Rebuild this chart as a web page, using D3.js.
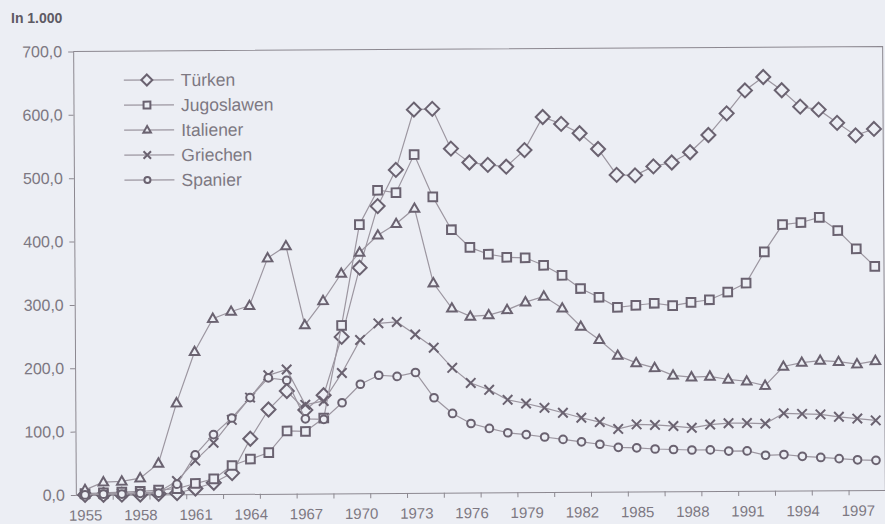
<!DOCTYPE html>
<html>
<head>
<meta charset="utf-8">
<script src="https://cdn.jsdelivr.net/npm/d3@7"></script>
<style>
  body { margin: 0; background: #eceef4; }
  svg { display: block; font-family: "Liberation Sans", Arial, sans-serif; }
  .axis path, .axis line { stroke: #8c8890; }
  .axis text { fill: #7d7882; }
</style>
</head>
<body>
<script>
// categories (one per year)
var years = d3.range(1955, 1999);

// series values, in 1.000
var tuerken = [0, 0, 0, 0, 1, 2, 9, 18, 33, 87, 133, 162, 132, 155, 247, 356, 453, 510, 605, 606,
  543, 521, 517, 514, 540, 592, 581, 566, 541, 500, 499, 513, 519, 535, 562, 596, 632, 653, 632, 606,
  601, 580, 560, 570];
var jugoslawen = [2, 3, 4, 5, 7, 9, 17, 24, 45, 55, 65, 99, 98, 119, 265, 424, 478, 474, 534, 467,
  415, 387, 376, 371, 370, 358, 342, 321, 307, 291, 294, 297, 293, 298, 302, 314, 328, 377, 420, 423,
  431, 410, 381, 353];
var italiener = [8, 20, 21, 26, 49, 144, 225, 277, 288, 297, 372, 391, 266, 304, 347, 380, 407, 425, 449, 331,
  291, 278, 280, 288, 300, 309, 290, 261, 240, 215, 203, 195, 183, 180, 181, 176, 173, 166, 196, 202,
  205, 203, 199, 204];
var griechen = [1, 1, 2, 3, 4, 21, 53, 81, 117, 152, 187, 196, 140, 146, 190, 242, 268, 270, 250, 229,
  197, 173, 162, 146, 140, 133, 125, 117, 110, 99, 106, 105, 103, 100, 105, 107, 107, 106, 122, 121,
  120, 116, 113, 110];
var spanier = [0, 1, 1, 2, 2, 16, 62, 94, 120, 152, 183, 179, 118, 117, 143, 172, 186, 184, 190, 150,
  125, 109, 101, 94, 91, 87, 83, 79, 75, 70, 69, 67, 66, 65, 65, 63, 63, 56, 57, 54,
  52, 50, 48, 47];

var seriesNames = ["Türken", "Jugoslawen", "Italiener", "Griechen", "Spanier"];
var markerTypes = ["diamond", "square", "triangle", "cross", "circle"];

// tick labels
var yTicks = [0, 100, 200, 300, 400, 500, 600, 700];
var xLabelYears = d3.range(1955, 1998, 3);
var xTickMarks = d3.range(1956.5, 1998, 2);

(function(){
  var width = 885,
      height = 524;

  var left = 74.5, right = 884,
      top = 49, bottom = 492.5;

  var lineColor = "#9c96a0",
      markColor = "#6a6270",
      bgColor = "#eceef4";

  var svg = d3.select("body")
    .append("svg")
    .attr("width", width)
    .attr("height", height);

  // the scanned page sits slightly tilted
  var g = svg.append("g")
    .attr("transform", "rotate(-0.35, 479, 271)");

  // one band per year, marks in the middle
  var x = d3.scaleLinear()
    .domain([years[0] - 0.5, years[years.length - 1] + 0.5])
    .range([left, right]);

  var y = d3.scaleLinear()
    .domain([0, 700])
    .range([bottom, top]);

  // plot area border (top and right)
  g.append("path")
    .attr("d", "M" + left + "," + top + "H" + right + "V" + bottom)
    .attr("fill", "none")
    .attr("stroke", "#8c8890")
    .attr("stroke-width", 1);

  // y axis
  var fmt = function(d){ return d3.format(".1f")(d).replace(".", ","); };
  var yAxis = g.append("g")
    .attr("class", "axis")
    .attr("transform", "translate(" + left + ",0)")
    .call(d3.axisLeft(y)
      .tickValues(yTicks)
      .tickFormat(fmt)
      .tickSize(5)
      .tickSizeOuter(0)
      .tickPadding(6));
  yAxis.selectAll("text").style("font-size", "16px");

  // x axis: tick marks between categories
  g.append("g")
    .attr("class", "axis")
    .attr("transform", "translate(0," + bottom + ")")
    .call(d3.axisBottom(x)
      .tickValues(xTickMarks)
      .tickFormat("")
      .tickSize(5)
      .tickSizeOuter(0));

  // x labels every third year
  var xLabels = g.append("g")
    .attr("class", "axis")
    .attr("transform", "translate(0," + bottom + ")")
    .call(d3.axisBottom(x)
      .tickValues(xLabelYears)
      .tickFormat(d3.format("d"))
      .tickSize(0)
      .tickPadding(15));
  xLabels.select(".domain").remove();
  xLabels.selectAll("text").style("font-size", "15px");

  // unit label
  svg.append("text")
    .attr("x", 11)
    .attr("y", 23)
    .style("font-size", "14px")
    .style("font-weight", "bold")
    .style("fill", "#5e5a64")
    .text("In 1.000");

  // marker shapes
  function markerPath(type, s){
    if (type == "diamond") return "M0," + (-s) + "L" + s + ",0L0," + s + "L" + (-s) + ",0Z";
    if (type == "square") { var h = s * 0.62; return "M" + (-h) + "," + (-h) + "H" + h + "V" + h + "H" + (-h) + "Z"; }
    if (type == "triangle") { var t = s * 0.72; return "M0," + (-t) + "L" + (t * 0.95) + "," + (t * 0.65) + "H" + (-t * 0.95) + "Z"; }
    if (type == "cross") { var c = s * 0.68; return "M" + (-c) + "," + (-c) + "L" + c + "," + c + "M" + c + "," + (-c) + "L" + (-c) + "," + c; }
    var r = s * 0.55;
    return "M" + r + ",0A" + r + "," + r + " 0 1,1 " + (-r) + ",0A" + r + "," + r + " 0 1,1 " + r + ",0Z";
  }

  var allSeries = [tuerken, jugoslawen, italiener, griechen, spanier];

  var line = d3.line()
    .x(function(d, i){ return x(years[i]); })
    .y(function(d){ return y(d); });

  allSeries.forEach(function(values, k){
    var s = g.append("g").attr("class", "series");

    s.append("path")
      .datum(values)
      .attr("d", line)
      .attr("fill", "none")
      .attr("stroke", lineColor)
      .attr("stroke-width", 1.2);

    s.selectAll(".mark")
      .data(values)
      .enter()
      .append("path")
      .attr("class", "mark")
      .attr("transform", function(d, i){
        return "translate(" + x(years[i]) + "," + y(d) + ")";
      })
      .attr("d", markerPath(markerTypes[k], 7))
      .attr("fill", markerTypes[k] == "cross" ? "none" : bgColor)
      .attr("stroke", markColor)
      .attr("stroke-width", 2);
  });

  // legend
  var legend = g.selectAll(".legend")
    .data(seriesNames)
    .enter()
    .append("g")
    .attr("class", "legend")
    .attr("transform", function(d, i){
      return "translate(125," + (78 + i * 25) + ")";
    });

  legend.append("line")
    .attr("x1", 0)
    .attr("x2", 50)
    .attr("stroke", lineColor)
    .attr("stroke-width", 1.2);

  legend.append("path")
    .attr("transform", "translate(23,0)")
    .attr("d", function(d, i){ return markerPath(markerTypes[i], 5.5); })
    .attr("fill", function(d, i){ return markerTypes[i] == "cross" ? "none" : bgColor; })
    .attr("stroke", markColor)
    .attr("stroke-width", 2);

  legend.append("text")
    .attr("x", 57)
    .attr("dy", "0.35em")
    .style("font-size", "17.5px")
    .style("fill", "#7d7882")
    .text(function(d){ return d; });
})();
</script>
</body>
</html>
